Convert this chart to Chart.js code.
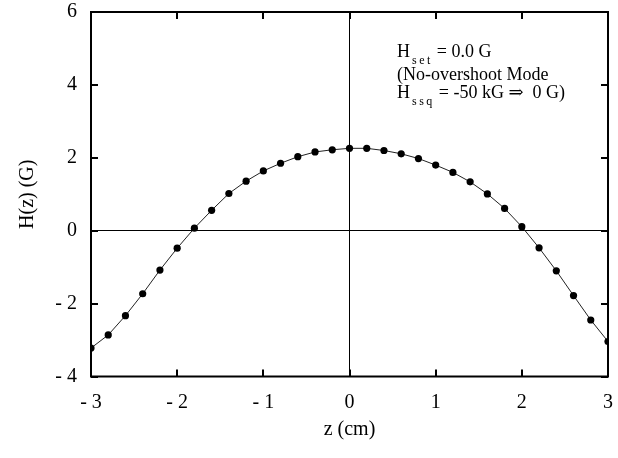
<!DOCTYPE html>
<html>
<head>
<meta charset="utf-8">
<script src="https://cdn.jsdelivr.net/npm/chart.js@4"></script>
<style>
  html, body { margin: 0; padding: 0; background: #fff; }
  #wrap { width: 618px; height: 458px; }
</style>
</head>
<body>
<div id="wrap"><canvas id="c" width="618" height="458"></canvas></div>
<script>
// field profile H(z)
const zValues = [-3.0, -2.8, -2.6, -2.4, -2.2, -2.0, -1.8, -1.6, -1.4, -1.2, -1.0,
                 -0.8, -0.6, -0.4, -0.2, 0.0, 0.2, 0.4, 0.6, 0.8, 1.0,
                 1.2, 1.4, 1.6, 1.8, 2.0, 2.2, 2.4, 2.6, 2.8, 3.0];
const hValues = [-3.22, -2.86, -2.33, -1.73, -1.08, -0.48, 0.07, 0.56, 1.02, 1.36, 1.64,
                 1.85, 2.03, 2.16, 2.22, 2.26, 2.26, 2.20, 2.11, 1.98, 1.80,
                 1.60, 1.34, 1.01, 0.61, 0.11, -0.47, -1.10, -1.78, -2.45, -3.04];
const xRange = [-3, 3];
const yRange = [-4, 6];
const xStep = 1;
const yStep = 2;

const SERIF = '"Liberation Serif", "DejaVu Serif", serif';

function fmtTick(v) {
    return v < 0 ? '- ' + Math.abs(v) : String(v);
}

// frame, inward ticks on all four sides, and the text box
const framePlugin = {
    id: 'frame',
    afterDraw(chart) {
        const { ctx, chartArea: a, scales } = chart;
        const len = 7;
        ctx.save();
        ctx.strokeStyle = '#000';
        ctx.lineWidth = 2;
        ctx.beginPath();
        scales.x.ticks.forEach(t => {
            const px = Math.round(scales.x.getPixelForValue(t.value));
            ctx.moveTo(px, a.bottom); ctx.lineTo(px, a.bottom - len);
            ctx.moveTo(px, a.top); ctx.lineTo(px, a.top + len);
        });
        scales.y.ticks.forEach(t => {
            const py = Math.round(scales.y.getPixelForValue(t.value));
            ctx.moveTo(a.left, py); ctx.lineTo(a.left + len, py);
            ctx.moveTo(a.right, py); ctx.lineTo(a.right - len, py);
        });
        ctx.stroke();
        ctx.strokeRect(a.left, a.top, a.right - a.left, a.bottom - a.top);

        // annotation
        ctx.fillStyle = '#000';
        ctx.textBaseline = 'alphabetic';
        ctx.textAlign = 'left';
        const x0 = 397;
        const big = '18px ' + SERIF;
        const small = '12px ' + SERIF;
        function sub(text, x, y) {
            ctx.font = small;
            let cx = x;
            for (const ch of text) { ctx.fillText(ch, cx, y); cx += ctx.measureText(ch).width + 2.5; }
            return cx;
        }
        ctx.font = big;
        ctx.fillText('H', x0, 57);
        let cx = x0 + ctx.measureText('H').width + 2;
        cx = sub('set', cx, 64);
        ctx.font = big;
        ctx.fillText('= 0.0 G', cx + 4, 57);
        ctx.fillText('(No-overshoot Mode', x0, 80);
        ctx.fillText('H', x0, 98);
        cx = x0 + ctx.measureText('H').width + 2;
        cx = sub('ssq', cx, 105);
        ctx.font = big;
        ctx.fillText('= -50 kG \u21d2  0 G)', cx + 4, 98);
        ctx.restore();
    }
};

const zeroGrid = {
    drawOnChartArea: true,
    drawTicks: false,
    lineWidth: 1,
    color: c => (c.tick && c.tick.value === 0 ? '#000' : 'rgba(0,0,0,0)')
};

new Chart(document.getElementById('c'), {
    type: 'scatter',
    data: {
        datasets: [{
            data: zValues.map((z, i) => ({ x: z, y: hValues[i] })),
            showLine: true,
            borderColor: '#222',
            borderWidth: 1,
            pointRadius: 3.6,
            pointBackgroundColor: '#000',
            pointBorderColor: '#000',
            pointBorderWidth: 0,
            tension: 0
        }]
    },
    options: {
        responsive: false,
        animation: false,
        devicePixelRatio: 1,
        layout: { padding: { left: 0, right: 0, top: 0, bottom: 0 } },
        plugins: { legend: { display: false }, tooltip: { enabled: false } },
        scales: {
            x: {
                type: 'linear',
                min: xRange[0], max: xRange[1],
                ticks: { stepSize: xStep, color: '#000', padding: 14, maxRotation: 0,
                         font: { family: SERIF, size: 20 }, callback: fmtTick },
                grid: zeroGrid,
                border: { display: false },
                title: { display: true, text: 'z (cm)', color: '#000',
                         font: { family: SERIF, size: 20 }, padding: { top: 0, bottom: 16 } },
                afterFit: s => { s.height = 81.5; s.paddingRight = 10; }
            },
            y: {
                type: 'linear',
                min: yRange[0], max: yRange[1],
                ticks: { stepSize: yStep, color: '#000', padding: 14,
                         font: { family: SERIF, size: 20 }, callback: fmtTick },
                grid: zeroGrid,
                border: { display: false },
                title: { display: true, text: 'H(z) (G)', color: '#000',
                         font: { family: SERIF, size: 20 }, padding: { top: 16, bottom: 0 } },
                afterFit: s => { s.width = 91; s.paddingTop = 12; }
            }
        }
    },
    plugins: [framePlugin]
});
</script>
</body>
</html>
